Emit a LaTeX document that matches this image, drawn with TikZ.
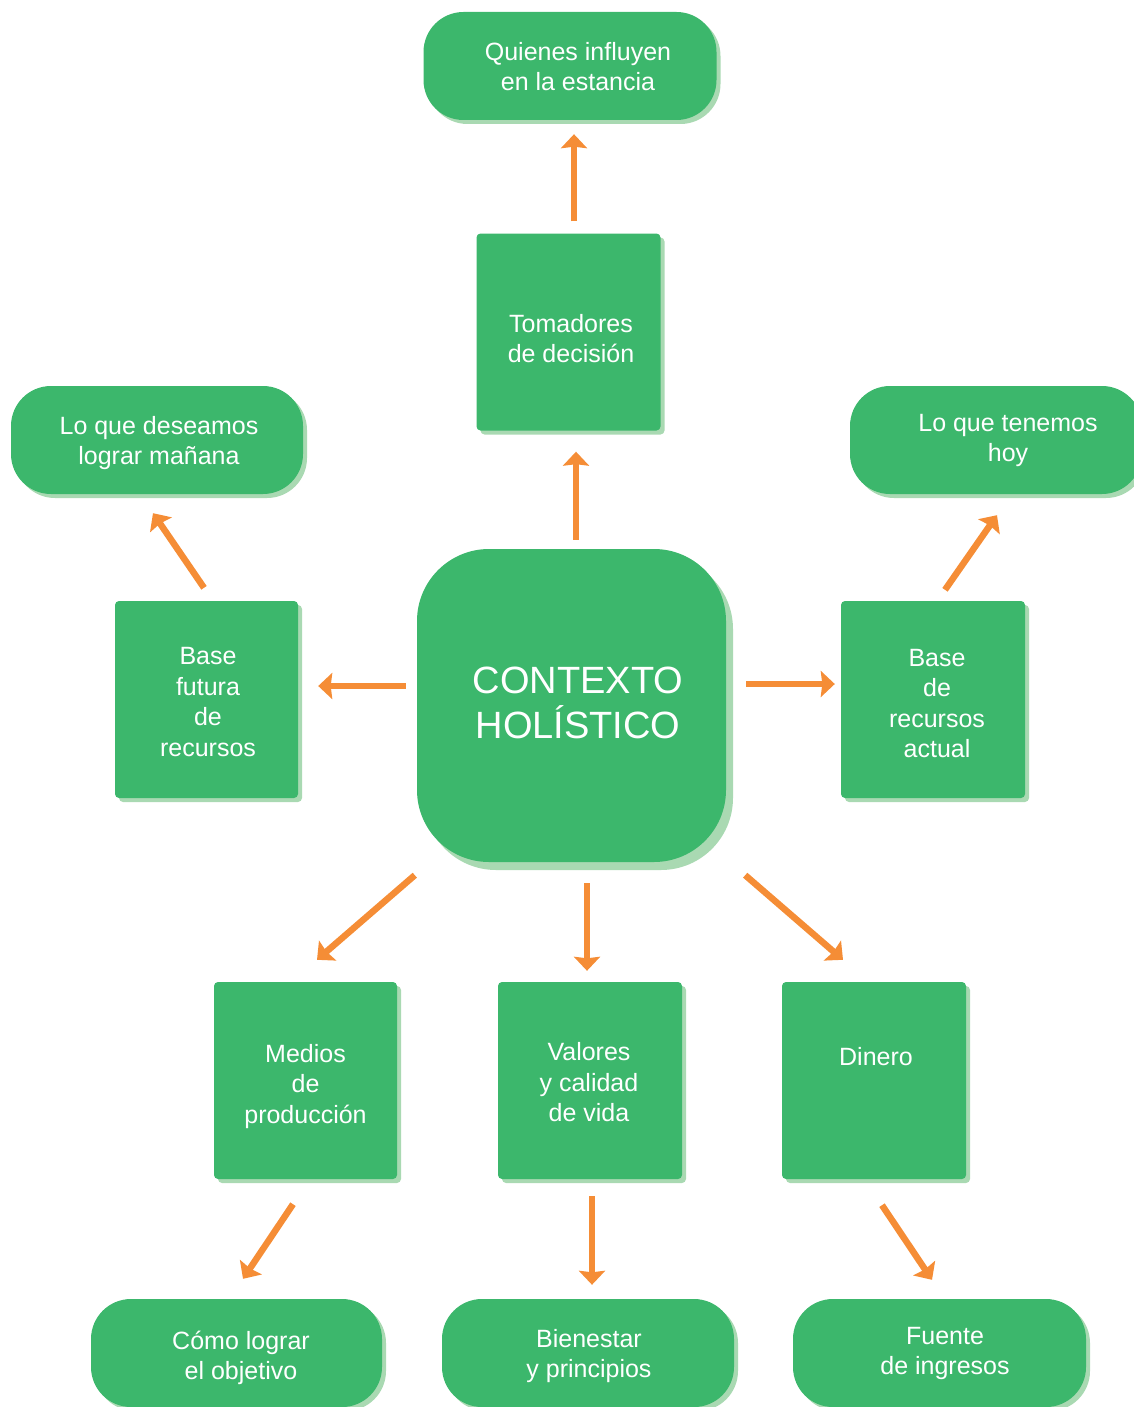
\documentclass[tikz,border=0pt]{standalone}
\usepackage{fontspec}
\setmainfont{Liberation Sans}
\usetikzlibrary{arrows.meta}
\definecolor{grn}{RGB}{60,183,108}
\definecolor{shd}{RGB}{169,217,178}
\definecolor{org}{RGB}{245,141,54}
\tikzset{
  txt/.style={text=white, align=center, inner sep=0pt, font=\fontsize{25}{30.5}\selectfont},
  base/.style={fill=grn, inner sep=0pt, draw=none,
    preaction={fill=shd, transform canvas={shift={(4pt,-4pt)}}}},
  pill/.style={base, rounded corners=40pt, minimum width=292pt, minimum height=108pt},
  sq/.style={base, rounded corners=4pt, minimum width=184pt, minimum height=197pt},
  hub/.style={fill=grn, inner sep=0pt, rounded corners=72pt,
    minimum width=309pt, minimum height=313pt,
    preaction={fill=shd, transform canvas={shift={(7pt,-8pt)}}}},
  arr/.style={draw=org, line width=6.5pt, -{Stealth[length=14pt,width=26pt,inset=1.5pt]}},
}
\begin{document}
\begin{tikzpicture}[x=1pt, y=-1pt]
\useasboundingbox (0,0) rectangle (1134,1407);

% central node
\node[hub, label={[txt, font=\fontsize{38}{45}\selectfont, shift={(6.5,-3)}]center:{CONTEXTO\\HOLÍSTICO}}]
  (ctr) at (571.5,705.5) {};

% top branch
\node[sq, label={[txt, shift={(2.5,6.5)}]center:{Tomadores\\de decisión}}]
  (tom) at (568.5,332) {};
\node[pill, minimum width=293pt, label={[txt, shift={(8,0.5)}]center:{Quienes influyen\\en la estancia}}]
  (qui) at (570,66) {};

% left branch
\node[sq, minimum width=183pt, label={[txt, shift={(1.5,2.5)}]center:{Base\\futura\\de\\recursos}}]
  (bf) at (206.5,699.5) {};
\node[pill, label={[txt, shift={(2,3)}]center:{Lo que deseamos\\lograr mañana}}]
  (ld) at (157,440) {};

% right branch
\node[sq, label={[txt, shift={(4,4)}]center:{Base\\de\\recursos\\actual}}]
  (ba) at (933,699.5) {};
\node[pill, label={[txt, shift={(12,0.5)}]center:{Lo que tenemos\\hoy}}]
  (lt) at (996,440) {};

% lower branches
\node[sq, minimum width=183pt, label={[txt, shift={(0,6)}]center:{Medios\\de\\producción}}]
  (med) at (305.5,1080.5) {};
\node[sq, label={[txt, shift={(-1,2)}]center:{Valores\\y calidad\\de vida}}]
  (val) at (590,1080.5) {};
\node[sq, label={[txt, shift={(2,-23.5)}]center:{Dinero}}]
  (din) at (874,1080.5) {};

\node[pill, minimum width=291pt, label={[txt, shift={(4.5,5)}]center:{Cómo lograr\\el objetivo}}]
  (como) at (236.5,1353) {};
\node[pill, label={[txt, shift={(1,3)}]center:{Bienestar\\y principios}}]
  (bien) at (588,1353) {};
\node[pill, minimum width=293pt, label={[txt, shift={(5.5,0.5)}]center:{Fuente\\de ingresos}}]
  (fue) at (939.5,1353) {};

% connectors
\draw[arr] ([shift={(5.5,-12)}]tom.north) -- ([shift={(4,14)}]qui.south);
\draw[arr] ([shift={(4.5,-9)}]ctr.north) -- ([shift={(7.5,21)}]tom.south);
\draw[arr] ([shift={(-2.5,-13)}]bf.north) -- ([shift={(-4,19)}]ld.south);
\draw[arr] ([shift={(-11,-19.5)}]ctr.west) -- ([shift={(20,-13.5)}]bf.east);
\draw[arr] ([shift={(20,-21.5)}]ctr.east) -- ([shift={(-6,-15.5)}]ba.west);
\draw[arr] ([shift={(12,-11)}]ba.north) -- ([shift={(1,21)}]lt.south);
\draw[arr] ([shift={(-2,13)}]ctr.south west) -- ([shift={(11.5,-22)}]med.north);
\draw[arr] ([shift={(15.5,21)}]ctr.south) -- ([shift={(-3,-11)}]val.north);
\draw[arr] ([shift={(19,13)}]ctr.south east) -- ([shift={(-31,-22)}]din.north);
\draw[arr] ([shift={(-12.5,25)}]med.south) -- ([shift={(6.5,-20)}]como.north);
\draw[arr] ([shift={(2,17)}]val.south) -- ([shift={(4,-14)}]bien.north);
\draw[arr] ([shift={(8,26)}]din.south) -- ([shift={(-7.5,-19)}]fue.north);
\end{tikzpicture}
\end{document}
